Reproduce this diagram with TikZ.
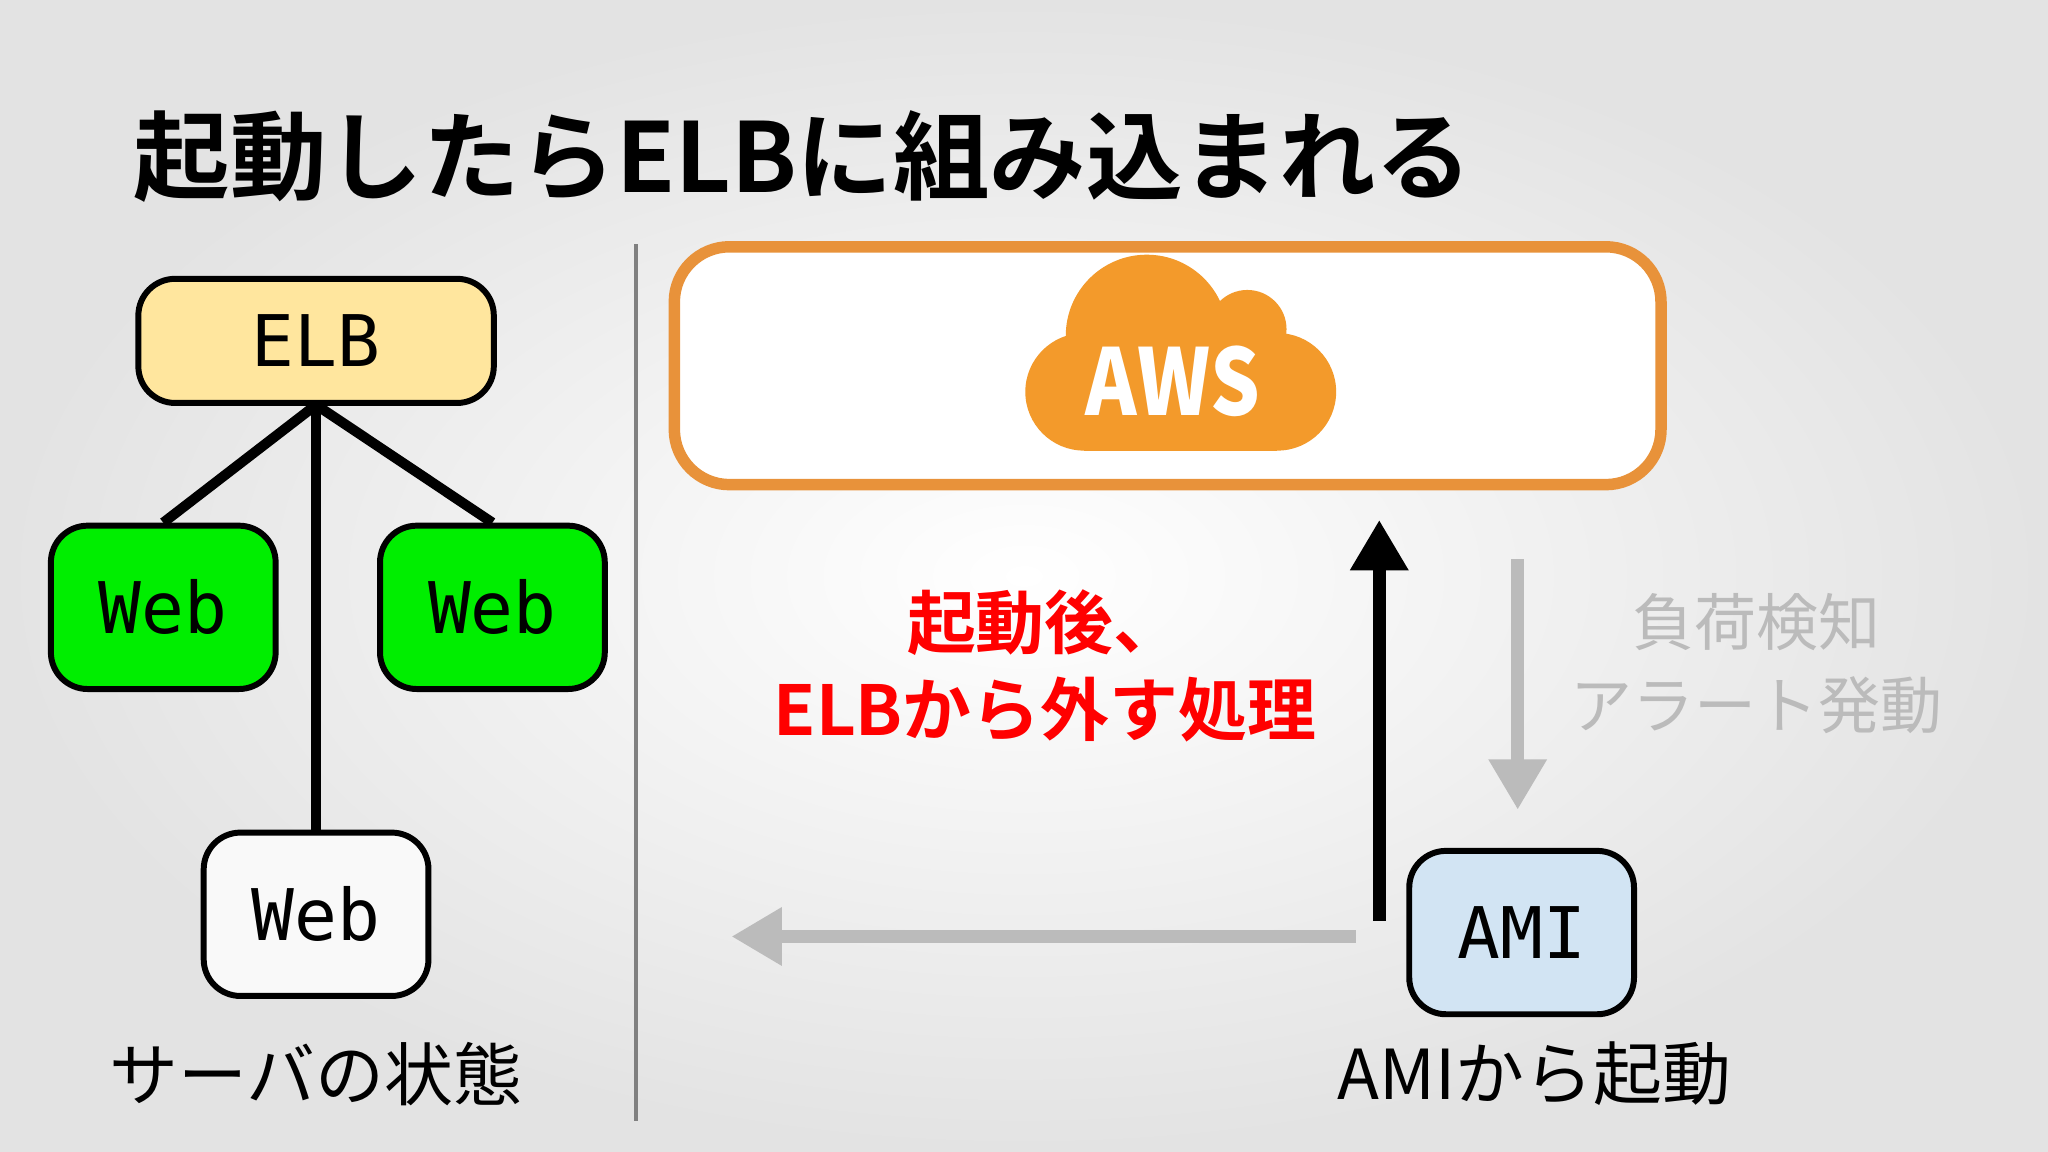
\documentclass[tikz,border=0pt]{standalone}
\usepackage{fontspec}
\setmainfont{Noto Sans CJK JP}
\newfontfamily\jpbold{Noto Sans CJK JP Bold}
\setmonofont{DejaVu Sans Mono}
\usetikzlibrary{arrows.meta}
\definecolor{elbfill}{HTML}{FFE69E}
\definecolor{webgreen}{HTML}{00EE00}
\definecolor{amifill}{HTML}{D2E4F3}
\definecolor{awsorange}{HTML}{F39A2B}
\definecolor{awsframe}{HTML}{E8923A}
\definecolor{note}{HTML}{BBBBBB}
\tikzset{
  srv/.style={draw=black, line width=1.3pt, rounded corners=8pt, minimum width=1.72cm, minimum height=1.25cm, font=\ttfamily\fontsize{15.5}{15.5}\selectfont},
  link/.style={line width=2.2pt},
  flow/.style={line width=2.8pt, -{Triangle[length=11pt,width=12pt]}},
}
\begin{document}
\begin{tikzpicture}[x=0.01cm,y=-0.01cm]
  \shade[inner color=white, outer color=gray!22] (0,0) rectangle (1568,882);
  \useasboundingbox (0,0) rectangle (1568,882);
  \node[anchor=west, font=\jpbold\fontsize{21}{21}\selectfont] (title) at (90,120) {起動したらELBに組み込まれる};
  \draw[gray, line width=1pt] (487,187) -- (487,858);
  % left side
  \node[srv, fill=elbfill, minimum width=2.72cm, minimum height=0.95cm] (elb) at (242,261) {ELB};
  \node[srv, fill=webgreen] (webl) at (125,465) {Web};
  \node[srv, fill=webgreen] (webr) at (377,465) {Web};
  \node[srv, fill=gray!5] (webd) at (242,700) {Web};
  \coordinate (hub) at (242,310);
  \draw[link] (hub) -- (webl.north);
  \draw[link] (hub) -- (webr.north);
  \draw[link] (hub) -- (webd.north);
  \node[font=\fontsize{15}{15}\selectfont] (state) at (242,822) {サーバの状態};
  % right side
  \node[draw=awsframe, fill=white, line width=2.5pt, rounded corners=12pt, minimum width=7.55cm, minimum height=1.82cm] (aws) at (894,280) {};
  \foreach \cx/\cy/\r in {878/257/62, 955/252/30, 830/300/45, 978/300/45}
    \fill[awsorange] (\cx,\cy) circle (\r);
  \fill[awsorange] (830,260) rectangle (978,345);
  \node[white, font=\fontsize{20}{20}\selectfont\bfseries, xscale=0.85] (awslbl) at (898,292) {AWS};
  \node[srv, fill=amifill] (ami) at (1165,714) {AMI};
  \node[font=\fontsize{15}{15}\selectfont] (amistart) at (1175,822) {AMIから起動};
  \coordinate (upbase) at (1056,705);
  \coordinate (uptop) at (1056,398);
  \draw[flow] (upbase) -- (uptop);
  \coordinate (dntop) at (1162,428);
  \coordinate (dnend) at (1162,620);
  \draw[flow, note] (dntop) -- (dnend);
  \coordinate (leftend) at (560,717);
  \coordinate (leftstart) at (1038,717);
  \draw[flow, note] (leftstart) -- (leftend);
  \node[note, align=center, font=\fontsize{13.5}{18}\selectfont] (alert) at (1345,508) {負荷検知\\アラート発動};
  \node[red, align=center, font=\jpbold\fontsize{15}{19}\selectfont] (detach) at (800,510) {起動後、\\ELBから外す処理};
\end{tikzpicture}
\end{document}
